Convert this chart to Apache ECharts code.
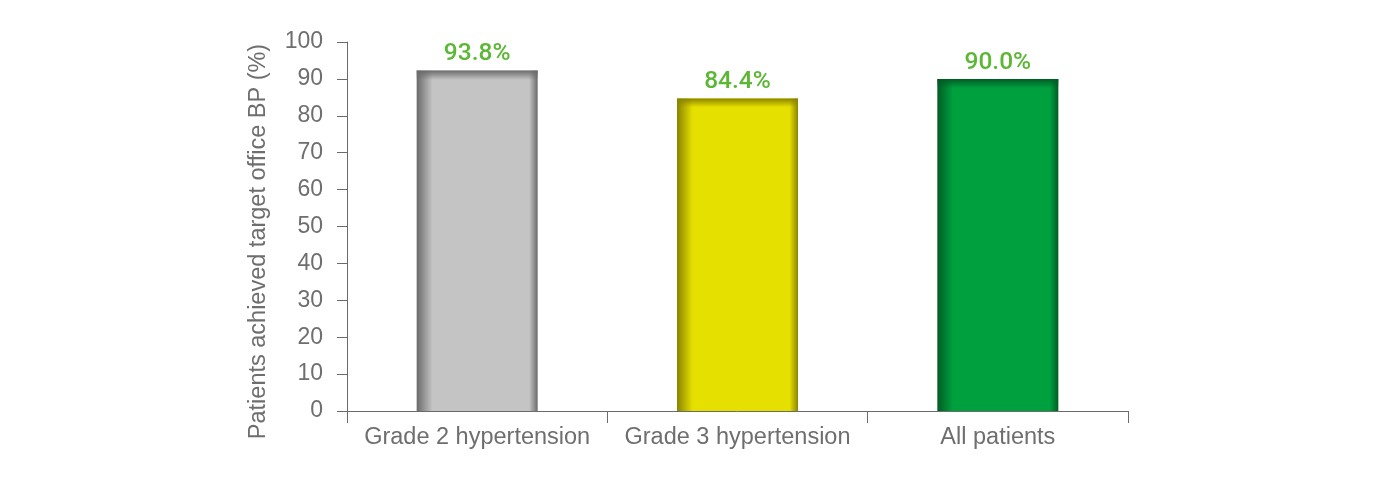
<!DOCTYPE html>
<html>
<head>
<meta charset="utf-8">
<script src="https://cdn.jsdelivr.net/npm/echarts@6/dist/echarts.min.js"></script>
<style>
html,body{margin:0;padding:0;background:#fff;}
#chart{width:1387px;height:479px;}
</style>
</head>
<body>
<div id="chart"></div>
<script>
const categories = ["Grade 2 hypertension", "Grade 3 hypertension", "All patients"];
const barValues = [92.3, 84.7, 90.0];
const valueLabels = ["93.8%", "84.4%", "90.0%"];
const yTicks = [0, 10, 20, 30, 40, 50, 60, 70, 80, 90, 100];
const yTitle = "Patients achieved target office BP (%)";

const palette = [
  { mid: "#c4c4c4", edge: "#6a6a6a" },
  { mid: "#e6e000", edge: "#8a8400" },
  { mid: "#00a03e", edge: "#005c24" }
];

function hGrad(p) {
  return new echarts.graphic.LinearGradient(0, 0, 1, 0, [
    { offset: 0, color: p.edge },
    { offset: 0.13, color: p.mid },
    { offset: 0.93, color: p.mid },
    { offset: 1, color: p.edge }
  ]);
}
function vGrad(p) {
  return new echarts.graphic.LinearGradient(0, 0, 0, 1, [
    { offset: 0, color: p.edge },
    { offset: 0.028, color: echarts.color.modifyAlpha(p.edge, 0) },
    { offset: 1, color: echarts.color.modifyAlpha(p.edge, 0) }
  ]);
}

const textColor = "#6e6e6e";
const fontFamily = "Liberation Sans, Arial, sans-serif";

const chart = echarts.init(document.getElementById("chart"), null, { renderer: "canvas" });
chart.setOption({
  animation: false,
  backgroundColor: "#ffffff",
  grid: { left: 347, right: 259, top: 42, bottom: 68 },
  xAxis: {
    type: "category",
    data: categories,
    axisLine: { lineStyle: { color: "#6b6b6b", width: 1 } },
    axisTick: { show: true, interval: 0, alignWithLabel: false, length: 12, lineStyle: { color: "#6b6b6b" } },
    axisLabel: { interval: 0, color: textColor, fontSize: 23.5, fontFamily: fontFamily, margin: 15 }
  },
  yAxis: {
    type: "value",
    min: yTicks[0],
    max: yTicks[yTicks.length - 1],
    interval: 10,
    name: yTitle,
    nameLocation: "middle",
    nameGap: 76,
    nameTextStyle: { color: textColor, fontSize: 23.5, fontFamily: fontFamily, padding: [0, 30, 0, 0] },
    axisLine: { show: true, lineStyle: { color: "#6b6b6b", width: 1 } },
    axisTick: { show: true, length: 10, lineStyle: { color: "#6b6b6b" } },
    axisLabel: { color: textColor, fontSize: 23, fontFamily: fontFamily, margin: 24 },
    splitLine: { show: false }
  },
  series: [
    {
      type: "bar",
      barWidth: 121,
      data: barValues.map((v, i) => ({ value: v, itemStyle: { color: hGrad(palette[i]) } })),
      label: {
        show: true,
        position: "top",
        distance: 4,
        formatter: (p) => valueLabels[p.dataIndex],
        color: "#5cb735",
        fontSize: 24.5,
        fontWeight: 500,
        fontFamily: "Roboto, Liberation Sans, sans-serif"
      }
    },
    {
      type: "bar",
      barWidth: 121,
      barGap: "-100%",
      silent: true,
      z: 3,
      data: barValues.map((v, i) => ({ value: v, itemStyle: { color: vGrad(palette[i]) } }))
    }
  ]
});
</script>
</body>
</html>
